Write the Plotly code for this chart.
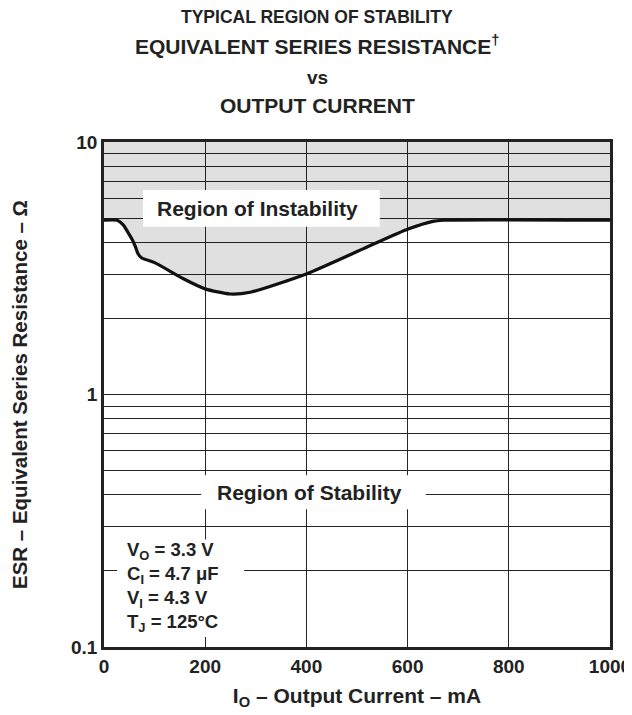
import plotly.graph_objects as go

# curve
current_ma = [0, 26, 38, 47, 56, 62, 67, 74, 101, 156, 200, 249, 289, 401, 519, 601, 650, 671, 1000]
esr_ohm = [4.9, 4.9, 4.7, 4.4, 4.1, 3.85, 3.62, 3.48, 3.32, 2.88, 2.62, 2.50, 2.54, 3.01, 3.83, 4.52, 4.85, 4.9, 4.9]

x_ticks = [0, 200, 400, 600, 800, 1000]
y_grid = [0.1, 0.2, 0.3, 0.4, 0.5, 0.6, 0.7, 0.8, 0.9,
          1, 2, 3, 4, 5, 6, 7, 8, 9, 10]
y_labels = {0.1: "0.1", 1: "1", 10: "10"}

conditions = ["V<sub>O</sub> = 3.3 V", "C<sub>I</sub> = 4.7 \u03bcF",
              "V<sub>I</sub> = 4.3 V", "T<sub>J</sub> = 125\u00b0C"]

FONT = "Liberation Sans, Arial, sans-serif"
INK = "#222222"

fig = go.Figure()

# upper boundary of the shaded region (top of the chart)
fig.add_trace(go.Scatter(
    x=[current_ma[0], current_ma[-1]], y=[10, 10],
    mode="lines", line=dict(width=0, color="rgba(0,0,0,0)"),
    showlegend=False, hoverinfo="skip"
))
fig.add_trace(go.Scatter(
    x=current_ma, y=esr_ohm,
    mode="lines",
    line=dict(color="#111111", width=3.2, shape="spline", smoothing=0.6),
    fill="tonexty", fillcolor="rgba(0,0,0,0.12)",
    showlegend=False
))

# white label boxes
boxes = [
    (0.077, 0.545, 0.832, 0.905),
    (0.192, 0.636, 0.273, 0.340),
    (0.026, 0.277, 0.020, 0.213),
]
for x0, x1, y0, y1 in boxes:
    fig.add_shape(type="rect", xref="x domain", yref="y domain",
                  x0=x0, x1=x1, y0=y0, y1=y1,
                  fillcolor="white", line=dict(width=0), layer="above")

label_font = dict(family=FONT, size=21, color=INK, weight="bold")
fig.add_annotation(text="Region of Instability", xref="x domain", yref="y domain",
                   x=0.304, y=0.869, xanchor="center", yanchor="middle",
                   showarrow=False, font=label_font)
fig.add_annotation(text="Region of Stability", xref="x domain", yref="y domain",
                   x=0.407, y=0.306, xanchor="center", yanchor="middle",
                   showarrow=False, font=label_font)
fig.add_annotation(
    text="<br>".join(conditions), xref="x domain", yref="y domain",
    x=0.041, y=0.118,
    xanchor="left", yanchor="middle", align="left", showarrow=False,
    font=dict(family=FONT, size=18.5, color=INK, weight="bold"))

# title lines
title_lines = [
    ("TYPICAL REGION OF STABILITY", 17.5, 1.247),
    ("EQUIVALENT SERIES RESISTANCE<sup>\u2020</sup>", 21, 1.192),
    ("vs", 19, 1.128),
    ("OUTPUT CURRENT", 21, 1.072),
]
for txt, size, ypos in title_lines:
    fig.add_annotation(text=txt, xref="paper", yref="paper", x=0.421, y=ypos,
                       xanchor="center", yanchor="middle", showarrow=False,
                       font=dict(family=FONT, size=size, color=INK, weight="bold"))

fig.update_xaxes(
    range=[0, 1000], tickvals=x_ticks, ticks="", automargin=False,
    showgrid=True, gridcolor="#262626", gridwidth=1,
    showline=True, linecolor=INK, linewidth=2.8, mirror=True,
    zeroline=False,
    tickfont=dict(family=FONT, size=19, color=INK, weight="bold"),
    title=dict(text="I<sub>O</sub> \u2013 Output Current \u2013 mA", standoff=13,
               font=dict(family=FONT, size=21, color=INK, weight="bold")),
)
fig.update_yaxes(
    type="log", range=[-1, 1], automargin=False,
    tickvals=y_grid, ticktext=[y_labels.get(v, "") for v in y_grid], ticks="",
    showgrid=True, gridcolor="#262626", gridwidth=1,
    showline=True, linecolor=INK, linewidth=2.8, mirror=True,
    zeroline=False,
    tickfont=dict(family=FONT, size=19, color=INK, weight="bold"),
    title=dict(text="ESR \u2013 Equivalent Series Resistance \u2013 \u03a9", standoff=40,
               font=dict(family=FONT, size=20.5, color=INK, weight="bold")),
)

# the page body adds an 8 px margin, so the figure is drawn 8 px smaller
fig.update_layout(
    width=624, height=707,
    margin=dict(l=96, r=22, t=134, b=68),
    plot_bgcolor="white", paper_bgcolor="white",
    showlegend=False,
)

fig.write_html("out.html")
